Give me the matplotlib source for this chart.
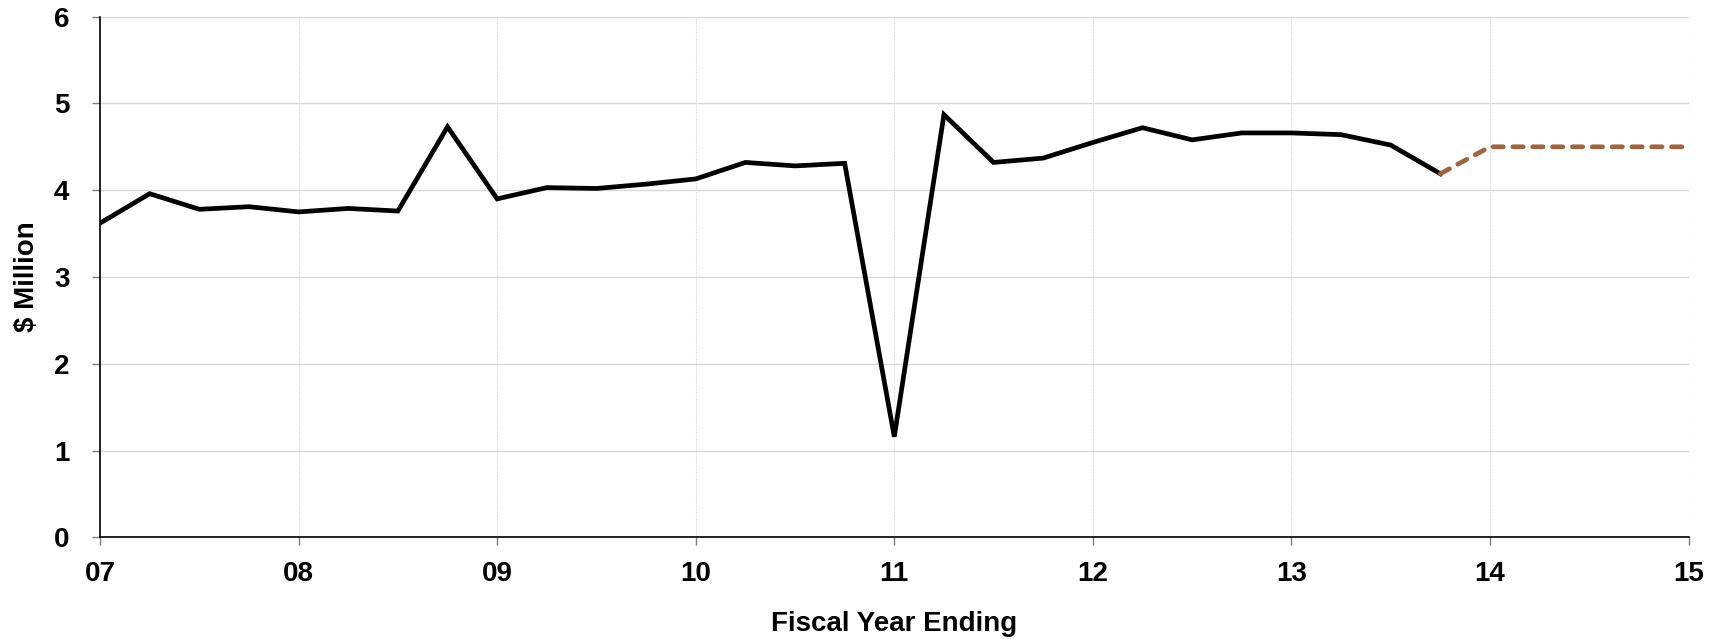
import matplotlib

matplotlib.use("agg")
from matplotlib import pyplot as plt
import numpy as np

plt.rcParams["font.family"] = ["Liberation Sans", "DejaVu Sans"]
plt.rcParams["font.weight"] = "bold"

# quarterly values, fiscal years 07 .. 13.75
quarters = np.arange(7.0, 13.76, 0.25)
actual = [3.62, 3.96, 3.78, 3.81, 3.75, 3.79, 3.76, 4.73,
          3.90, 4.03, 4.02, 4.07, 4.13, 4.32, 4.28, 4.31,
          1.16, 4.87, 4.32, 4.37, 4.55, 4.72, 4.58, 4.66,
          4.66, 4.64, 4.52, 4.19]

# projection
proj_x = [13.75, 14.0, 14.25, 14.5, 14.75, 15.0]
proj_y = [4.19, 4.50, 4.50, 4.50, 4.50, 4.50]

xticks = [7, 8, 9, 10, 11, 12, 13, 14, 15]
xlabels = ["07", "08", "09", "10", "11", "12", "13", "14", "15"]

fig = plt.figure(figsize=(17.16, 6.39), dpi=100)
ax = fig.add_axes([0.0583, 0.159, 0.9257, 0.815])

ax.plot(quarters, actual, color="black", lw=3.4, solid_joinstyle="miter", zorder=3)
ax.plot(proj_x, proj_y, color="#9c6644", lw=3.4, linestyle=(0, (2.2, 2.0)),
        dash_capstyle="round", zorder=3)

ax.set_xlim(7, 15)
ax.set_ylim(0, 6)
ax.set_xticks(xticks)
ax.set_xticklabels(xlabels)
ax.set_yticks(range(7))

ax.grid(axis="y", color="#d9d9d9", lw=1)
ax.grid(axis="x", color="#d9d9d9", lw=0.8, linestyle=(0, (1, 1)))
ax.set_axisbelow(True)

for s in ["top", "right"]:
    ax.spines[s].set_visible(False)
ax.spines["left"].set_linewidth(1.2)
ax.spines["bottom"].set_linewidth(1.2)

ax.tick_params(axis="both", labelsize=20, length=6, width=1, color="#7f7f7f")
ax.tick_params(axis="x", pad=11)
ax.tick_params(axis="y", pad=16)
for lbl in ax.get_xticklabels() + ax.get_yticklabels():
    lbl.set_fontweight("bold")

ax.set_xlabel("Fiscal Year Ending", fontsize=20, fontweight="bold", labelpad=17)
ax.set_ylabel("$ Million", fontsize=20, fontweight="bold", labelpad=10)

fig.savefig("out.png", dpi=100)
